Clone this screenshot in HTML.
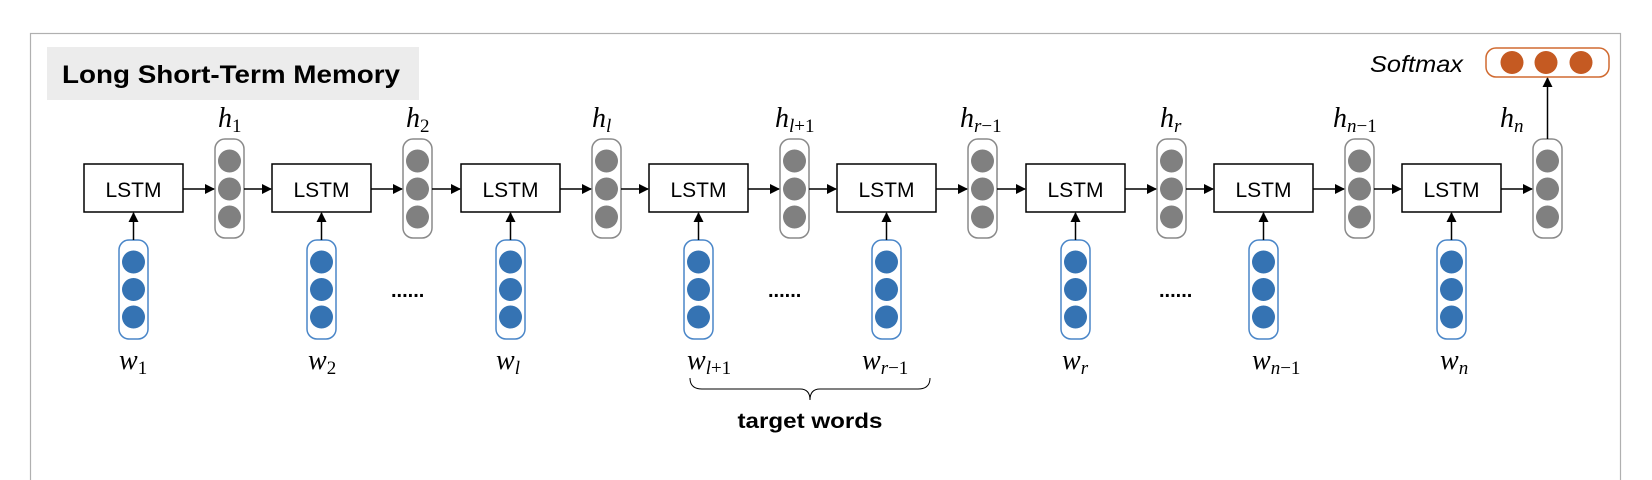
<!DOCTYPE html>
<html><head><meta charset="utf-8"><style>
html,body{margin:0;padding:0;background:#fff;}
svg{display:block}
.m{font-family:"Liberation Serif",serif;font-style:italic;font-size:28px;fill:#000}
.s{font-size:19px;font-style:italic}
.d{font-size:19px;font-style:normal}
.l{font-family:"Liberation Sans",sans-serif;font-size:21px;fill:#000}
</style></head><body>
<svg width="1652" height="480" viewBox="0 0 1652 480" xmlns="http://www.w3.org/2000/svg">
<defs>
<marker id="a" markerWidth="10" markerHeight="10" refX="9" refY="5" orient="auto" markerUnits="userSpaceOnUse"><path d="M0,0 L10,5 L0,10 z" fill="#000"/></marker>
<g id="hc"><rect x="0" y="0" width="29" height="99" rx="10" fill="#fff" stroke="#8a8a8a" stroke-width="1.5"/><circle cx="14.5" cy="22" r="11.5" fill="#808080"/><circle cx="14.5" cy="50" r="11.5" fill="#808080"/><circle cx="14.5" cy="78" r="11.5" fill="#808080"/></g>
<g id="wc"><rect x="0" y="0" width="29" height="99" rx="10" fill="#fff" stroke="#4a86c8" stroke-width="1.5"/><circle cx="14.5" cy="22" r="11.5" fill="#3573b3"/><circle cx="14.5" cy="49.5" r="11.5" fill="#3573b3"/><circle cx="14.5" cy="77" r="11.5" fill="#3573b3"/></g>
</defs>
<rect x="30.5" y="33.5" width="1590" height="460" fill="#fff" stroke="#b0b0b0" stroke-width="1.2"/>
<rect x="47" y="47" width="372" height="53" fill="#ececec"/>
<text x="62" y="83" font-family="Liberation Sans,sans-serif" font-weight="bold" font-size="25" textLength="338" lengthAdjust="spacingAndGlyphs">Long Short-Term Memory</text>

<g stroke="#000" stroke-width="1.5" fill="#fff">
<rect x="84" y="164" width="99" height="48"/><rect x="272" y="164" width="99" height="48"/><rect x="461" y="164" width="99" height="48"/><rect x="649" y="164" width="99" height="48"/><rect x="837" y="164" width="99" height="48"/><rect x="1026" y="164" width="99" height="48"/><rect x="1214" y="164" width="99" height="48"/><rect x="1402" y="164" width="99" height="48"/>
</g>
<g text-anchor="middle">
<text x="133.5" y="197" class="l">LSTM</text><text x="321.5" y="197" class="l">LSTM</text><text x="510.5" y="197" class="l">LSTM</text><text x="698.5" y="197" class="l">LSTM</text><text x="886.5" y="197" class="l">LSTM</text><text x="1075.5" y="197" class="l">LSTM</text><text x="1263.5" y="197" class="l">LSTM</text><text x="1451.5" y="197" class="l">LSTM</text>
</g>
<use href="#hc" x="215" y="139"/><use href="#hc" x="403" y="139"/><use href="#hc" x="592" y="139"/><use href="#hc" x="780" y="139"/><use href="#hc" x="968" y="139"/><use href="#hc" x="1157" y="139"/><use href="#hc" x="1345" y="139"/><use href="#hc" x="1533" y="139"/>
<use href="#wc" x="119" y="240"/><use href="#wc" x="307" y="240"/><use href="#wc" x="496" y="240"/><use href="#wc" x="684" y="240"/><use href="#wc" x="872" y="240"/><use href="#wc" x="1061" y="240"/><use href="#wc" x="1249" y="240"/><use href="#wc" x="1437" y="240"/>
<g stroke="#000" stroke-width="1.5" marker-end="url(#a)">
<line x1="183" y1="189" x2="214" y2="189"/><line x1="244" y1="189" x2="271" y2="189"/>
<line x1="371" y1="189" x2="402" y2="189"/><line x1="432" y1="189" x2="460" y2="189"/>
<line x1="560" y1="189" x2="591" y2="189"/><line x1="621" y1="189" x2="648" y2="189"/>
<line x1="748" y1="189" x2="779" y2="189"/><line x1="809" y1="189" x2="836" y2="189"/>
<line x1="936" y1="189" x2="967" y2="189"/><line x1="997" y1="189" x2="1025" y2="189"/>
<line x1="1125" y1="189" x2="1156" y2="189"/><line x1="1186" y1="189" x2="1213" y2="189"/>
<line x1="1313" y1="189" x2="1344" y2="189"/><line x1="1374" y1="189" x2="1401" y2="189"/>
<line x1="1501" y1="189" x2="1532" y2="189"/>
<line x1="133.5" y1="240" x2="133.5" y2="213"/><line x1="321.5" y1="240" x2="321.5" y2="213"/><line x1="510.5" y1="240" x2="510.5" y2="213"/><line x1="698.5" y1="240" x2="698.5" y2="213"/><line x1="886.5" y1="240" x2="886.5" y2="213"/><line x1="1075.5" y1="240" x2="1075.5" y2="213"/><line x1="1263.5" y1="240" x2="1263.5" y2="213"/><line x1="1451.5" y1="240" x2="1451.5" y2="213"/>
<line x1="1547.5" y1="139" x2="1547.5" y2="78"/>
</g>
<rect x="1486" y="48" width="123" height="29" rx="10" fill="#fff" stroke="#d06a30" stroke-width="1.5"/>
<circle cx="1512" cy="62.5" r="11.5" fill="#c55a22"/><circle cx="1546" cy="62.5" r="11.5" fill="#c55a22"/><circle cx="1581" cy="62.5" r="11.5" fill="#c55a22"/>
<text x="1370" y="72" font-family="Liberation Sans,sans-serif" font-style="italic" font-size="23" textLength="93" lengthAdjust="spacingAndGlyphs">Softmax</text>
<g font-family="Liberation Sans,sans-serif" font-size="20" font-weight="bold">
<text x="391" y="297">......</text><text x="768" y="297">......</text><text x="1159" y="297">......</text>
</g>
<g class="m">
<text x="218" y="127">h<tspan class="d" dy="5">1</tspan></text>
<text x="406" y="127">h<tspan class="d" dy="5">2</tspan></text>
<text x="592" y="127">h<tspan class="s" dy="5">l</tspan></text>
<text x="775" y="127">h<tspan class="s" dy="5">l</tspan><tspan class="d">+1</tspan></text>
<text x="960" y="127">h<tspan class="s" dy="5">r</tspan><tspan class="d">−1</tspan></text>
<text x="1160" y="127">h<tspan class="s" dy="5">r</tspan></text>
<text x="1333" y="127">h<tspan class="s" dy="5">n</tspan><tspan class="d">−1</tspan></text>
<text x="1500" y="127">h<tspan class="s" dy="5">n</tspan></text>
<text x="119" y="369">w<tspan class="d" dy="5">1</tspan></text>
<text x="308" y="369">w<tspan class="d" dy="5">2</tspan></text>
<text x="496" y="369">w<tspan class="s" dy="5">l</tspan></text>
<text x="687" y="369">w<tspan class="s" dy="5">l</tspan><tspan class="d">+1</tspan></text>
<text x="862" y="369">w<tspan class="s" dy="5">r</tspan><tspan class="d">−1</tspan></text>
<text x="1062" y="369">w<tspan class="s" dy="5">r</tspan></text>
<text x="1252" y="369">w<tspan class="s" dy="5">n</tspan><tspan class="d">−1</tspan></text>
<text x="1440" y="369">w<tspan class="s" dy="5">n</tspan></text>
</g>
<path d="M690,378 Q690,389 702,389 L800,389 Q810,389 810,400 Q810,389 820,389 L918,389 Q930,389 930,378" fill="none" stroke="#000" stroke-width="1"/>
<text x="810" y="428" text-anchor="middle" font-family="Liberation Sans,sans-serif" font-weight="bold" font-size="21" textLength="145" lengthAdjust="spacingAndGlyphs">target words</text>
</svg>
</body></html>
